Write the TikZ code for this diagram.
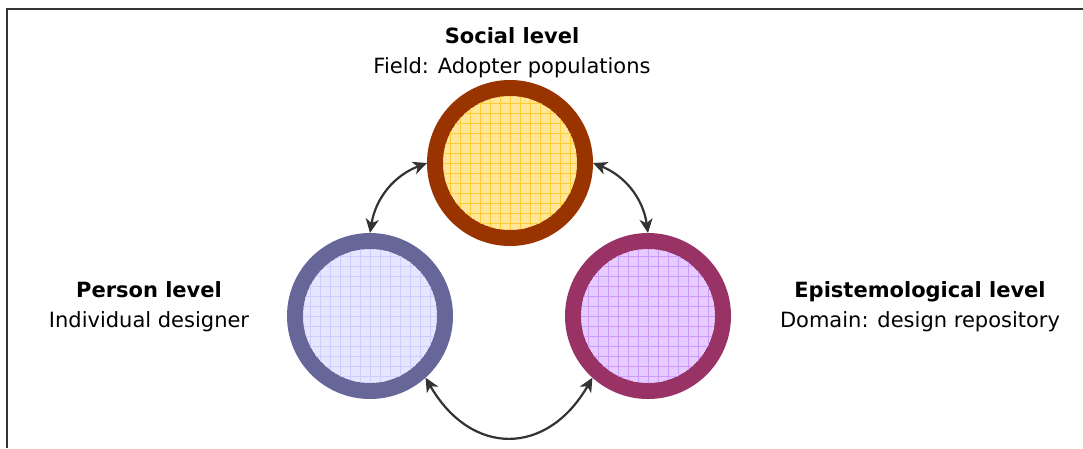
\documentclass[tikz,border=0pt]{standalone}
\usepackage{fontspec}
\setmainfont{DejaVu Sans}
\usetikzlibrary{arrows.meta}

\definecolor{socring}{HTML}{993300}
\definecolor{socfill}{HTML}{FFE699}
\definecolor{socgrid}{HTML}{FFCC33}
\definecolor{perring}{HTML}{666699}
\definecolor{perfill}{HTML}{E6E6FF}
\definecolor{pergrid}{HTML}{CCCCFF}
\definecolor{epiring}{HTML}{993366}
\definecolor{epifill}{HTML}{E6CCFF}
\definecolor{epigrid}{HTML}{CC99FF}
\definecolor{linkgray}{HTML}{333333}

\begin{document}
\begin{tikzpicture}[
    x=1pt, y=-1pt,
    level/.style = {
      shape=circle,
      minimum size=150pt,
      inner sep=0pt,
      line width=16pt
    },
    label text/.style = {
      align=center,
      font=\fontsize{21}{30}\selectfont
    },
    link/.style = {
      draw=linkgray,
      line width=2.2pt,
      {Stealth[length=14pt,width=13pt,inset=4pt]}-{Stealth[length=14pt,width=13pt,inset=4pt]}
    }
  ]
    \useasboundingbox (0,0) rectangle (1083,448);
    % frame, cut off at right and bottom
    \draw[linkgray, line width=1.5pt] (7,448) -- (7,9) -- (1083,9);

    % the three levels
    \node[level, draw=socring, fill=socfill] (social) at (510,163) {};
    \node[level, draw=perring, fill=perfill] (person) at (370,316) {};
    \node[level, draw=epiring, fill=epifill] (episteme) at (648,316) {};

    % grid inside each circle
    \foreach \c/\g in {social/socgrid, person/pergrid, episteme/epigrid} {
      \begin{scope}[y=1pt, shift={(\c.center)}]
        \clip (0,0) circle (67);
        \draw[\g!50, line width=0.3pt] (-70,-70) grid[step=5] (70,70);
        \draw[\g, line width=0.7pt] (-70,-70) grid[step=10] (70,70);
      \end{scope}
    }

    % labels
    \node[label text] (social text) at (512,53) {\textbf{Social level}\\Field: Adopter populations};
    \node[label text] (person text) at (149,307) {\textbf{Person level}\\Individual designer};
    \node[label text] (episteme text) at (920,307) {\textbf{Epistemological level}\\Domain: design repository};

    % links between levels
    \draw[link] (social.180) to[bend right=30] (person.90);
    \draw[link] (social.0) to[bend left=30] (episteme.90);
    \draw[link] (person.-48) to[bend right=60, looseness=1.4] (episteme.-132);
\end{tikzpicture}
\end{document}
